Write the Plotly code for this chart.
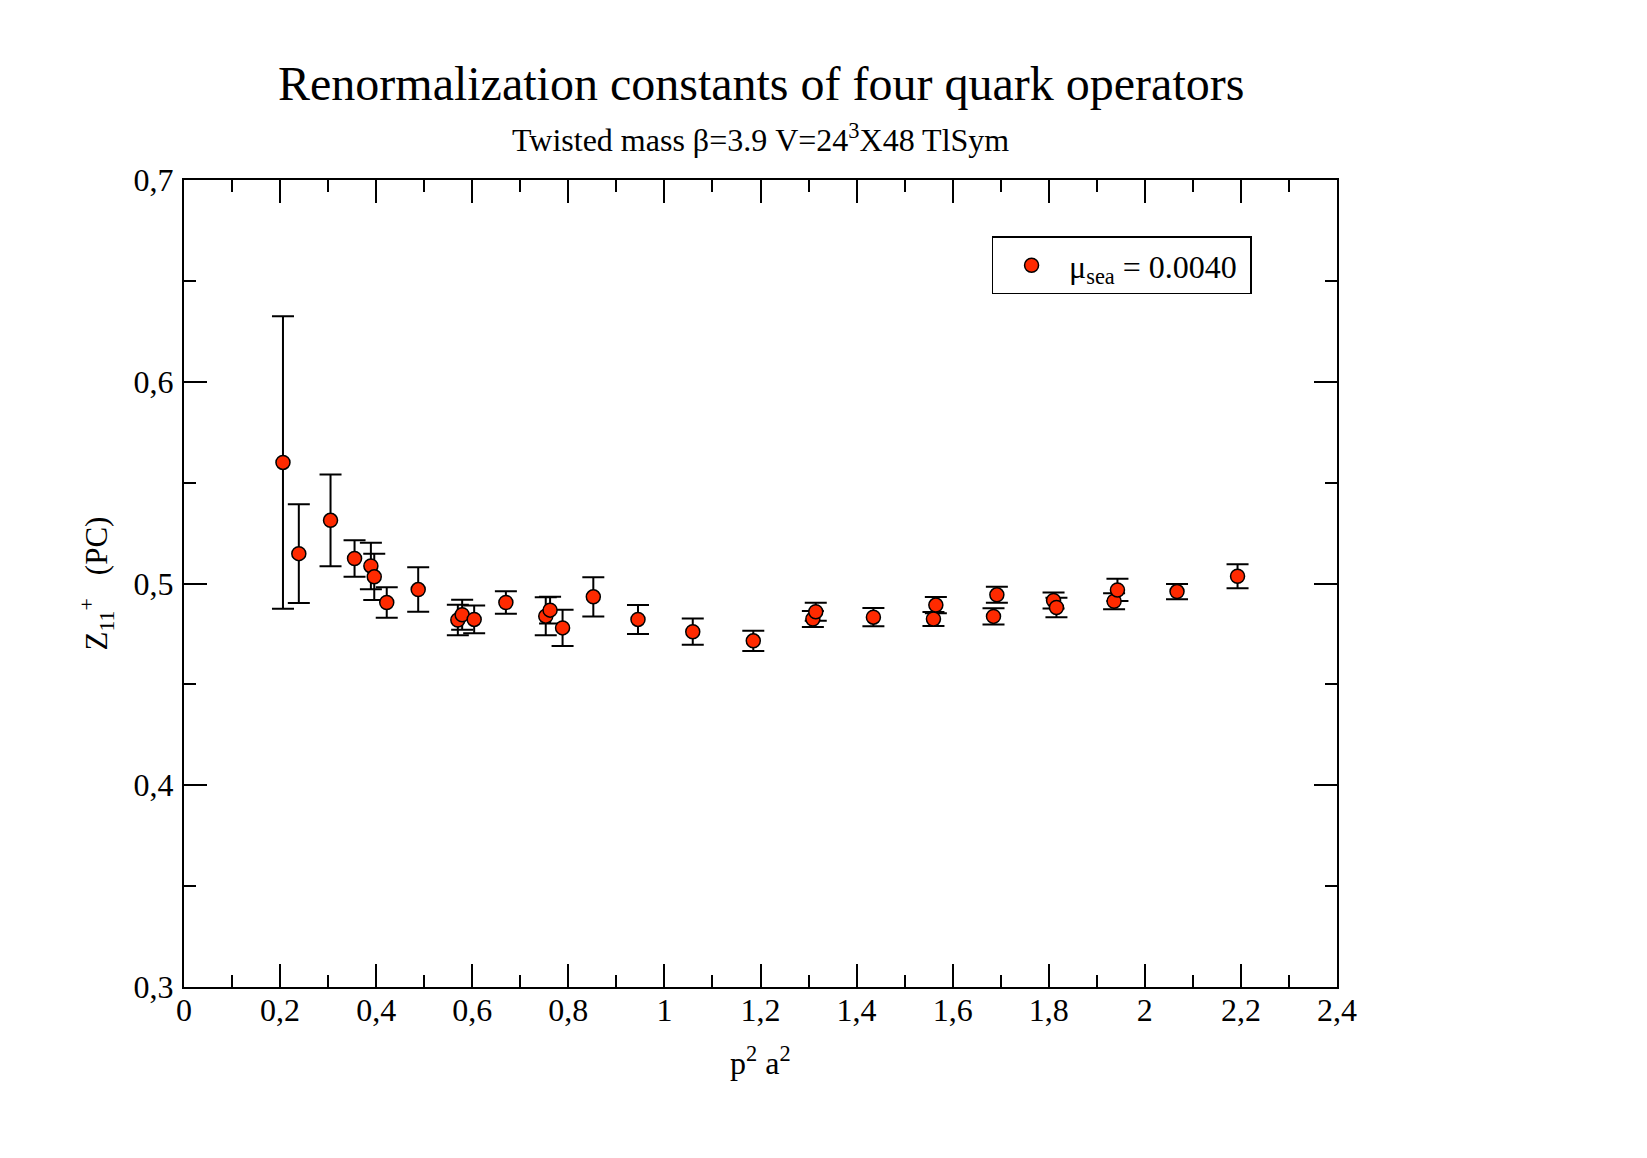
import plotly.graph_objects as go

# p^2 a^2 values
p2a2 = [0.206, 0.239, 0.305, 0.355, 0.389, 0.396, 0.422, 0.4875, 0.570, 0.579,
        0.604, 0.670, 0.753, 0.762, 0.788, 0.852, 0.945, 1.059, 1.185, 1.309,
        1.315, 1.435, 1.560, 1.565, 1.685, 1.692, 1.810, 1.816, 1.936, 1.943,
        2.067, 2.193]
# Z11+ (PC) values
z11 = [0.560, 0.5148, 0.5313, 0.5124, 0.5087, 0.5033, 0.4906, 0.497, 0.4819, 0.4845,
       0.4822, 0.4906, 0.4838, 0.4868, 0.478, 0.4934, 0.4822, 0.4761, 0.4716, 0.4824,
       0.486, 0.4833, 0.4824, 0.4893, 0.4837, 0.4944, 0.4916, 0.4881, 0.4912, 0.4968,
       0.496, 0.5036]
# error bars
z11_err = [0.0725, 0.0245, 0.0227, 0.009, 0.0115, 0.0115, 0.0076, 0.011, 0.0076, 0.0074,
           0.0069, 0.0056, 0.0094, 0.0066, 0.009, 0.0097, 0.0072, 0.0065, 0.005, 0.004,
           0.0045, 0.0045, 0.0035, 0.004, 0.004, 0.004, 0.004, 0.0048, 0.004, 0.0055,
           0.0038, 0.006]

x_ticks = [0, 0.2, 0.4, 0.6, 0.8, 1, 1.2, 1.4, 1.6, 1.8, 2, 2.2, 2.4]
y_ticks = [0.3, 0.4, 0.5, 0.6, 0.7]

FONT = "Liberation Serif"

fig = go.Figure()
fig.add_trace(go.Scatter(
    x=p2a2, y=z11, mode="markers",
    name="μ<sub>sea</sub> = 0.0040 ",
    marker=dict(symbol="circle", size=14, color="#ff2a00",
                line=dict(color="black", width=1.5)),
    error_y=dict(type="data", array=z11_err, visible=True,
                 color="black", thickness=2, width=11),
))

axis_common = dict(
    showline=True, linecolor="black", linewidth=2, mirror="ticks",
    ticks="inside", ticklen=23, tickwidth=2, tickcolor="black",
    showgrid=False, zeroline=False,
    tickfont=dict(family=FONT, size=32, color="black"),
)

fig.update_xaxes(range=[0, 2.4], tickvals=x_ticks, ticklabelstandoff=-6,
                 minor=dict(dtick=0.1, ticks="inside", ticklen=12, tickwidth=2,
                            tickcolor="black", showgrid=False),
                 **axis_common)
fig.update_yaxes(range=[0.3, 0.7], tickvals=y_ticks, ticklabelstandoff=2,
                 minor=dict(dtick=0.05, ticks="inside", ticklen=12, tickwidth=2,
                            tickcolor="black", showgrid=False),
                 **axis_common)

fig.update_layout(
    width=1647, height=1158,
    margin=dict(l=184, r=310, t=180, b=171),
    paper_bgcolor="white", plot_bgcolor="white",
    separators=", ",
    font=dict(family=FONT, color="black"),
    showlegend=True,
    legend=dict(x=0.7004, y=0.930, xanchor="left", yanchor="top",
                bordercolor="black", borderwidth=1.5, bgcolor="white",
                font=dict(family=FONT, size=32, color="black"),
                itemwidth=65, indentation=1),
    annotations=[
        dict(text="Renormalization constants of four quark operators",
             xref="paper", yref="paper", x=0.5, y=1.119, xanchor="center",
             yanchor="middle", showarrow=False,
             font=dict(family=FONT, size=48, color="black")),
        dict(text="Twisted mass β=3.9 V=24<sup>3</sup>X48 TlSym",
             xref="paper", yref="paper", x=0.5, y=1.052, xanchor="center",
             yanchor="middle", showarrow=False,
             font=dict(family=FONT, size=32, color="black")),
        dict(text="p<sup>2</sup> a<sup>2</sup>",
             xref="paper", yref="paper", x=0.5, y=-0.064, xanchor="center",
             yanchor="top", showarrow=False,
             font=dict(family=FONT, size=32, color="black")),
        dict(text="Z<sub>11</sub><sup>+</sup>   (PC)",
             xref="paper", yref="paper", x=-0.0755, y=0.5, xanchor="center",
             yanchor="middle", showarrow=False, textangle=-90,
             font=dict(family=FONT, size=31, color="black")),
    ],
)

fig.write_html("out.html")
